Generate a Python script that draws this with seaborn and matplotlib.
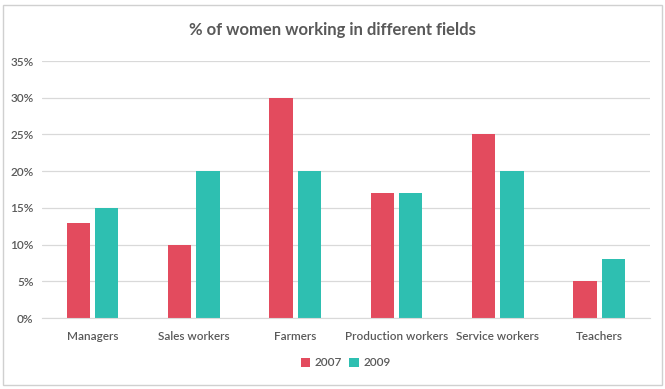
import numpy as np
import pandas as pd
import seaborn as sns
import matplotlib.pyplot as plt
from matplotlib.patches import Rectangle
from matplotlib.ticker import PercentFormatter

fields = ['Managers', 'Sales workers', 'Farmers', 'Production workers', 'Service workers', 'Teachers']
pct_2007 = [13, 10, 30, 17, 25, 5]
pct_2009 = [15, 20, 20, 17, 20, 8]

df = pd.DataFrame({
    'field': fields * 2,
    'year': ['2007'] * len(fields) + ['2009'] * len(fields),
    'pct': pct_2007 + pct_2009,
})

sns.set_style('white')
plt.rcParams['font.family'] = ['Lato', 'DejaVu Sans']
txt = '#595959'

fig = plt.figure(figsize=(6.65, 3.89), dpi=100)
ax = fig.add_axes([0.063, 0.1825, 0.914, 0.6605])

sns.barplot(data=df, x='field', y='pct', hue='year',
            palette=['#E34B5E', '#2EBFB1'], width=0.56, gap=0.18,
            saturation=1, linewidth=0, ax=ax)

ax.set_ylim(0, 35)
ax.set_yticks(range(0, 36, 5))
ax.yaxis.set_major_formatter(PercentFormatter(decimals=0))
ax.grid(axis='y', color='#d9d9d9', linewidth=0.9)
ax.set_axisbelow(True)
for s in ['top', 'right', 'left']:
    ax.spines[s].set_visible(False)
ax.spines['bottom'].set_color('#d9d9d9')
ax.set_xlabel('')
ax.set_ylabel('')
ax.tick_params(axis='both', length=0, colors=txt, labelsize=8.5)
ax.tick_params(axis='x', pad=9)
ax.tick_params(axis='y', pad=6)
for lab in ax.get_xticklabels() + ax.get_yticklabels():
    lab.set_fontweight('semibold')

fig.text(0.5, 0.922, '% of women working in different fields', ha='center', va='center',
         fontsize=12, fontweight='bold', color=txt)

leg = ax.legend(loc='center', bbox_to_anchor=(0.5, -0.175), ncol=2, frameon=False,
                fontsize=8.5, handlelength=0.8, handleheight=0.8, handletextpad=0.4,
                columnspacing=0.6)
for t in leg.get_texts():
    t.set_color(txt)
    t.set_fontweight('semibold')

fig.patches.append(Rectangle((0.004, 0.01), 0.992, 0.978, transform=fig.transFigure,
                             fill=False, edgecolor='#d0d0d0', linewidth=1))

fig.savefig('out.png', dpi=100)
